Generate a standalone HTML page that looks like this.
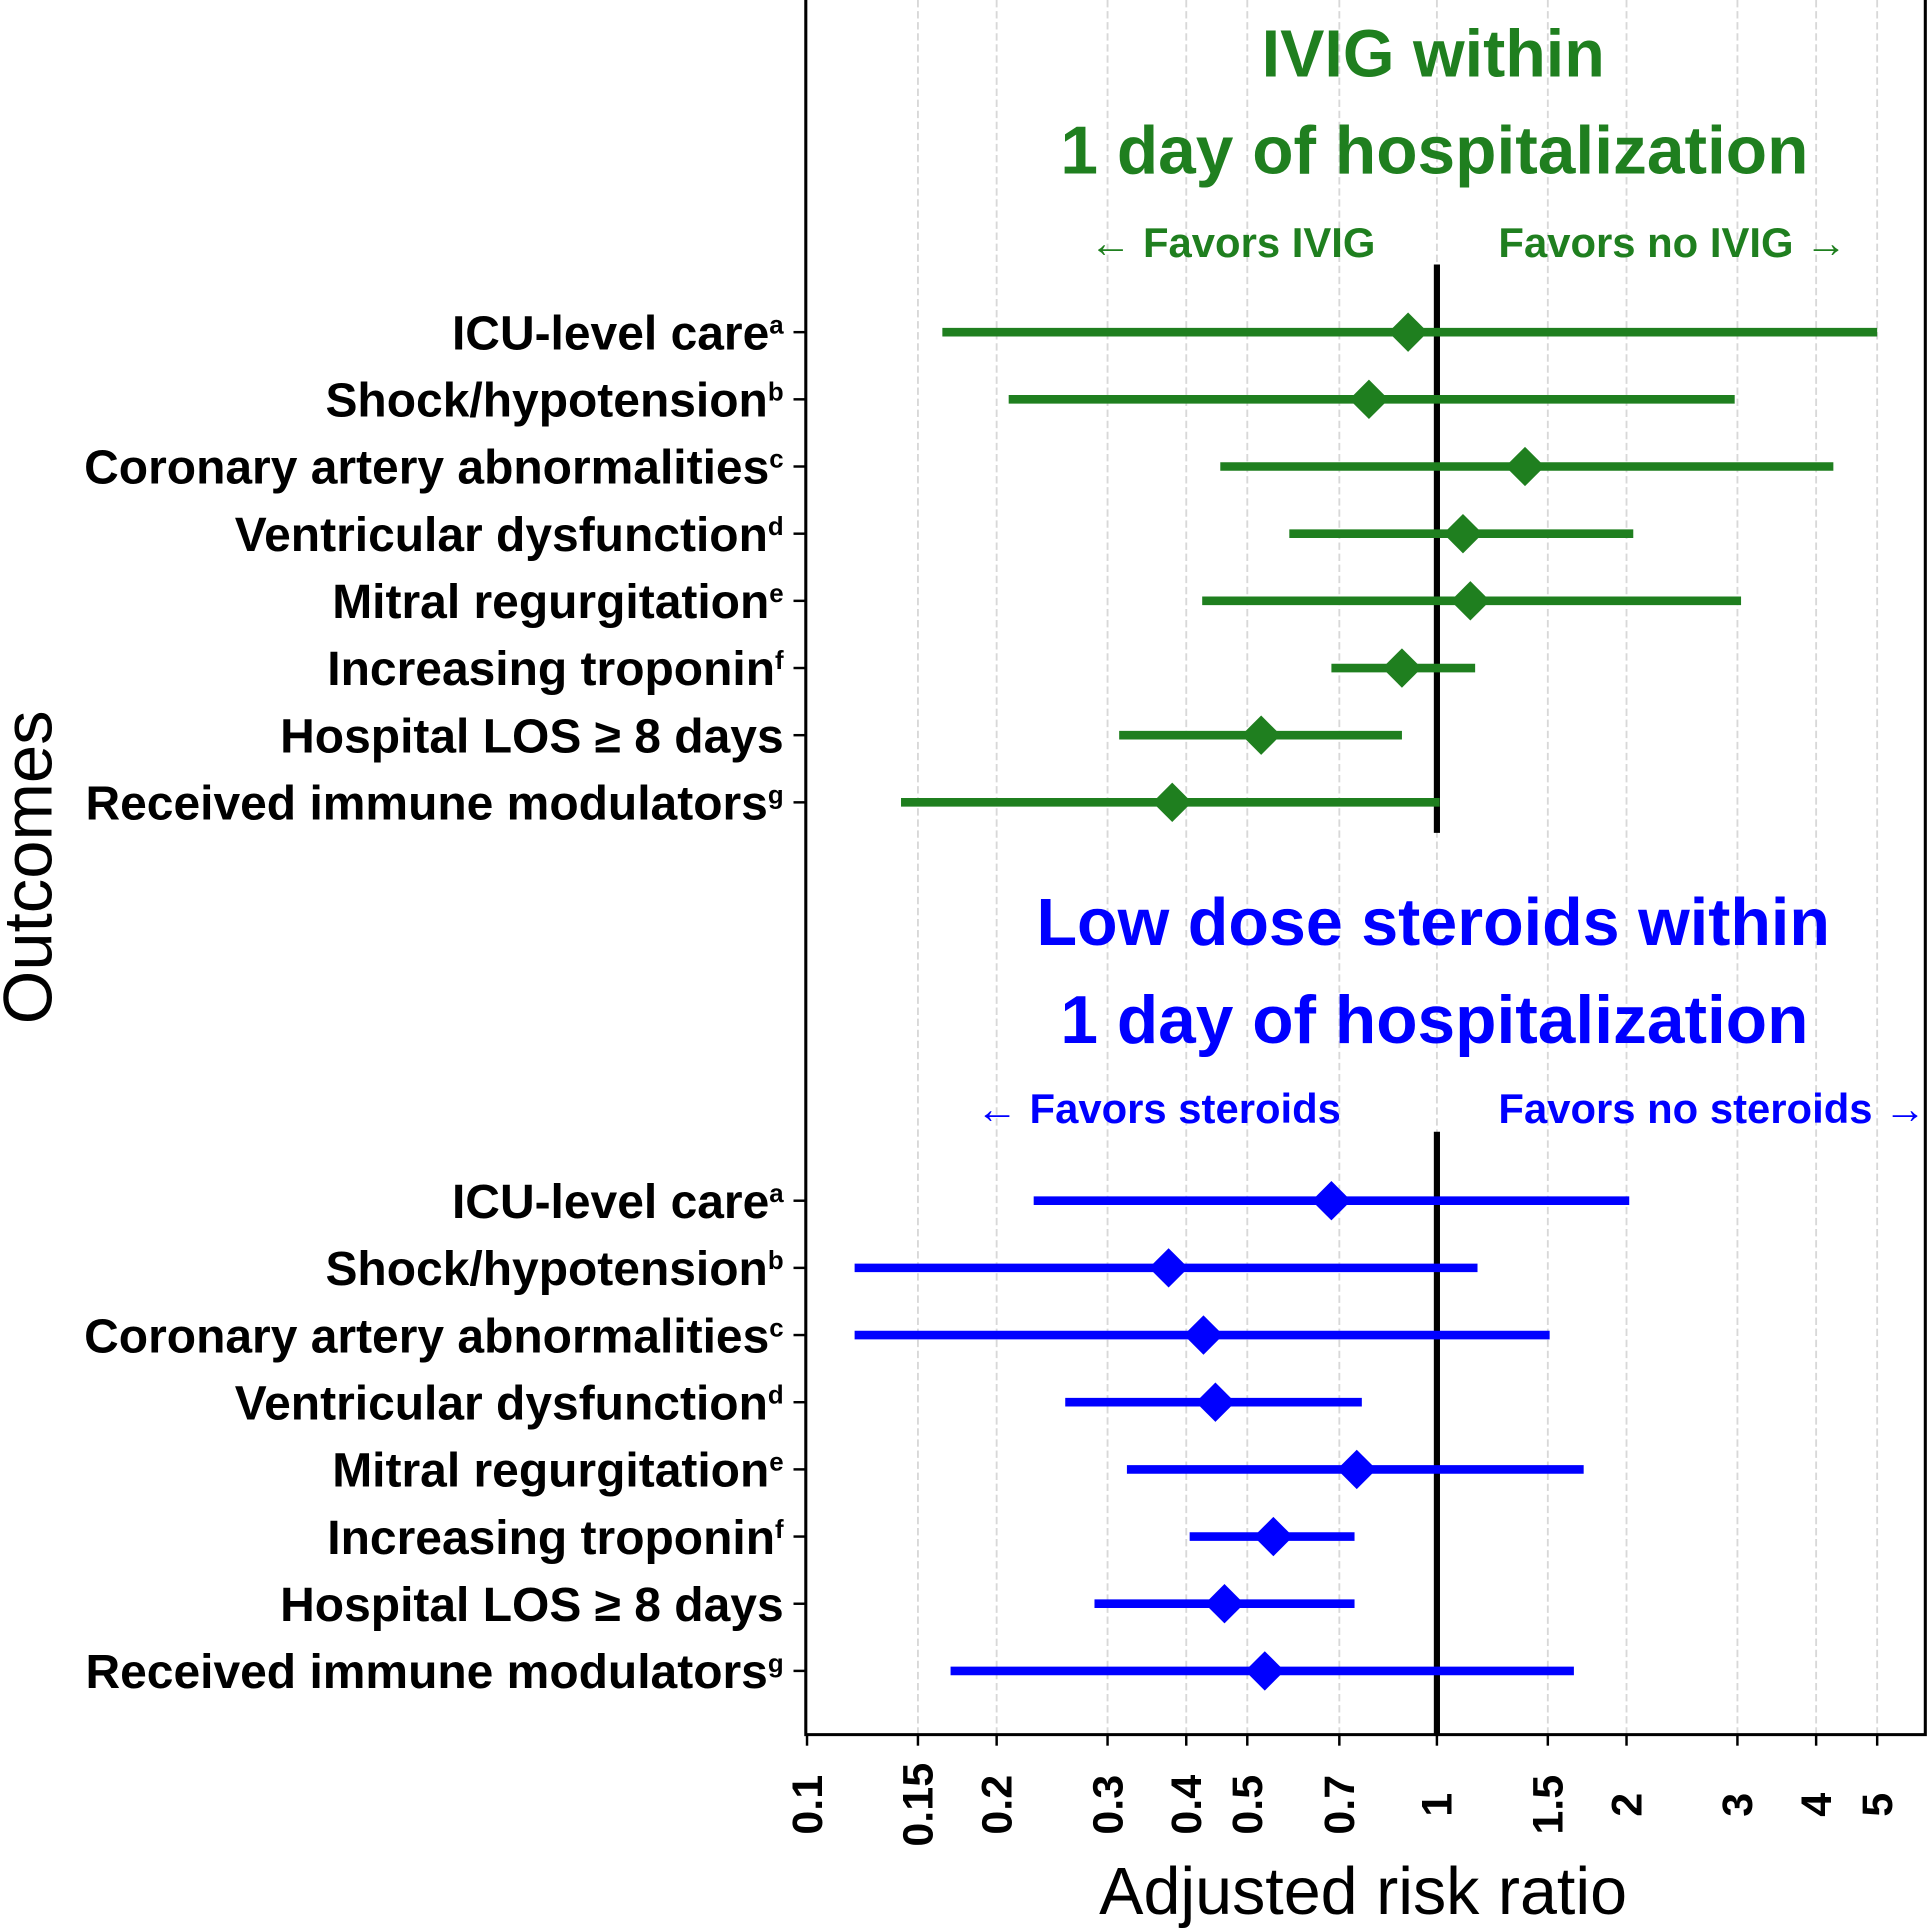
<!DOCTYPE html>
<html><head><meta charset="utf-8"><style>
html,body{margin:0;padding:0;background:#fff;}
svg{display:block;font-family:"Liberation Sans",Arial,sans-serif;}
</style></head><body>
<svg id="chart" width="1929" height="1929" viewBox="0 0 1568 1568" xmlns="http://www.w3.org/2000/svg">
<rect x="0" y="0" width="1568" height="1568" fill="#fff"/>
<g id="grid"></g>
<g id="axes"></g>
<g id="marks"></g>
<g id="labels"></g>
<text x="1165" y="62" text-anchor="middle" font-size="54" font-weight="bold" fill="#1f7f1f">IVIG within</text>
<text x="1166" y="141" text-anchor="middle" font-size="55" font-weight="bold" fill="#1f7f1f">1 day of hospitalization</text>
<text x="1118" y="209" text-anchor="end" font-size="34" font-weight="bold" fill="#1f7f1f">← Favors IVIG</text>
<text x="1218" y="209" font-size="34" font-weight="bold" fill="#1f7f1f">Favors no IVIG →</text>
<text x="1165" y="768" text-anchor="middle" font-size="54" font-weight="bold" fill="#0000ff">Low dose steroids within</text>
<text x="1166" y="848" text-anchor="middle" font-size="55" font-weight="bold" fill="#0000ff">1 day of hospitalization</text>
<text x="1090" y="913" text-anchor="end" font-size="34" font-weight="bold" fill="#0000ff">← Favors steroids</text>
<text x="1218" y="913" font-size="34" font-weight="bold" fill="#0000ff">Favors no steroids →</text>
<text x="1108" y="1556" text-anchor="middle" font-size="54">Adjusted risk ratio</text>
<text transform="translate(42,705) rotate(-90)" text-anchor="middle" font-size="56">Outcomes</text>
</svg>
<script>
const outcomes = ["ICU-level care","Shock/hypotension","Coronary artery abnormalities","Ventricular dysfunction","Mitral regurgitation","Increasing troponin","Hospital LOS ≥ 8 days","Received immune modulators"];
const supers = ["a","b","c","d","e","f","","g"];
const ivigEst = [0.90,0.78,1.38,1.10,1.13,0.88,0.526,0.38];
const ivigLo  = [0.164,0.209,0.453,0.583,0.424,0.68,0.313,0.141];
const ivigHi  = [5.0,2.97,4.26,2.05,3.04,1.15,0.88,1.01];
const sterEst = [0.68,0.375,0.426,0.445,0.746,0.55,0.46,0.533];
const sterLo  = [0.229,0.119,0.119,0.257,0.322,0.405,0.286,0.169];
const sterHi  = [2.02,1.16,1.51,0.76,1.71,0.74,0.74,1.65];
const xTicks = [0.1,0.15,0.2,0.3,0.4,0.5,0.7,1,1.5,2,3,4,5];
const xTickLabels = ["0.1","0.15","0.2","0.3","0.4","0.5","0.7","1","1.5","2","3","4","5"];

const NS="http://www.w3.org/2000/svg";
const X0=655,X1=1565,Y0=0,Y1=1410;
function xs(v){return 1168+512*Math.log10(v);}
function ysTop(i){return 270+i*54.6;}
function ysBot(i){return 976+i*54.6;}
function mk(tag,attrs,parent){const e=document.createElementNS(NS,tag);for(const k in attrs)e.setAttribute(k,attrs[k]);parent.appendChild(e);return e;}
const grid=document.getElementById('grid'),axes=document.getElementById('axes'),marks=document.getElementById('marks'),labels=document.getElementById('labels');

xTicks.forEach((t,i)=>{
  const x=xs(t);
  if(t!==0.1){
    const g=mk('line',{x1:x,x2:x,y1:Y0,y2:Y1,stroke:'#d8d8d8','stroke-width':1.5,'stroke-dasharray':'6,3'},grid);
    
    
  }
  const tk=mk('line',{x1:x,x2:x,y1:Y1,y2:Y1+9,stroke:'#000','stroke-width':2},axes);
  
  
  const tl=mk('text',{transform:`translate(${x+12},1467) rotate(-90)`,'text-anchor':'middle','font-size':35,'font-weight':'bold'},axes);
  tl.textContent=xTickLabels[i];
  
  
});
const frame=mk('path',{d:`M${X0},${Y0} V${Y1} H${X1} V${Y0}`,fill:'none',stroke:'#000','stroke-width':2.5},axes);


const r1=mk('line',{x1:xs(1),x2:xs(1),y1:215,y2:677,stroke:'#000','stroke-width':5},axes);


const r2=mk('line',{x1:xs(1),x2:xs(1),y1:920,y2:Y1,stroke:'#000','stroke-width':5},axes);



function series(est,lo,hi,ys,color,prefix){
  outcomes.forEach((o,i)=>{
    const y=ys(i);
    const l=mk('line',{x1:xs(lo[i]),x2:xs(hi[i]),y1:y,y2:y,stroke:color,'stroke-width':7},marks);
    
    
    const cx=xs(est[i]);
    const d=mk('polygon',{points:`${cx-16},${y} ${cx},${y-16} ${cx+16},${y} ${cx},${y+16}`,fill:color},marks);
    
    
    const tk=mk('line',{x1:645,x2:X0,y1:y,y2:y,stroke:'#000','stroke-width':2},axes);
    
    
    const t=mk('text',{x:637,y:y+14,'text-anchor':'end','font-size':39,'font-weight':'bold'},labels);
    t.textContent=o;
    if(supers[i]){const s=mk('tspan',{'font-size':21,dy:-13},t);s.textContent=supers[i];}
    
    
  });
}
series(ivigEst,ivigLo,ivigHi,ysTop,'#1f7f1f','ivig');
series(sterEst,sterLo,sterHi,ysBot,'#0000ff','steroid');
</script>
</body></html>
